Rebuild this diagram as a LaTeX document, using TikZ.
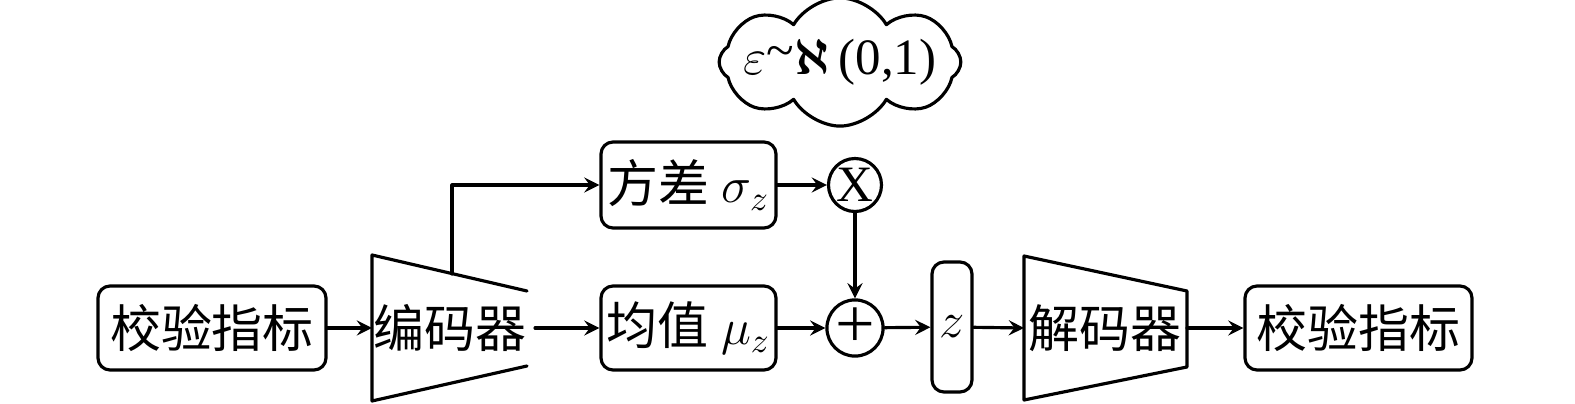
\documentclass[tikz,border=0pt]{standalone}
\usepackage{amsmath}
\usepackage{fontspec}
\setmainfont{Liberation Serif}
\newfontfamily\cjk{Noto Sans CJK SC}
\usetikzlibrary{shapes.symbols}
\tikzset{
    blk/.style={draw, rounded corners=0.12cm, minimum height=0.84cm, inner sep=0pt},
    opr/.style={draw, circle, minimum size=0.53cm, inner sep=0pt}
}
\begin{document}
\begin{tikzpicture}[scale=1,>=stealth, font=\fontsize{14.5}{17}\selectfont, line join=round, line cap=round, line width=0.9pt]
            \useasboundingbox (0,0) rectangle (15.75,4.04);
            \def\ymid{0.76} \def\yup{2.19}
            \node[blk, minimum width=2.28cm] (in) at (2.12,\ymid) {\cjk 校验指标};
            \node (enc) at (4.50,\ymid) {\cjk 编码器};
            \draw (5.27,1.13)--(3.72,1.49)--(3.72,0.03)--(5.27,0.38);
            \coordinate (encin) at (3.72,\ymid);
            \coordinate (encout) at (5.35,\ymid);
            \coordinate (encup) at (4.52,1.30);
            \node[blk, minimum width=1.75cm, minimum height=0.86cm] (var) at (6.885,\yup) {{\cjk 方差} $\sigma_z$};
            \node[blk, minimum width=1.75cm] (mean) at (6.885,\ymid) {{\cjk 均值} $\mu_z$};
            \node[opr] (mul) at (8.55,\yup) {X};
            \node[opr, font=\fontsize{20}{22}\selectfont] (add) at (8.55,\ymid) {+};
            \node[blk, minimum width=0.40cm, minimum height=1.30cm] (z) at (9.52,0.77) {$z$};
            \node (dec) at (11.05,\ymid) {\cjk 解码器};
            \draw (10.24,1.48)--(11.87,1.13)--(11.87,0.37)--(10.24,0.04)--cycle;
            \coordinate (decin) at (10.24,\ymid);
            \coordinate (decout) at (11.87,\ymid);
            \node[blk, minimum width=2.27cm] (out) at (13.585,\ymid) {\cjk 校验指标};
            \node[draw, cloud, cloud puffs=8, cloud puff arc=120, aspect=3.0, inner xsep=-3pt, inner ysep=-2pt] (eps) at (8.40,3.42) {$\varepsilon$\raisebox{0.3ex}{\textasciitilde}$\boldsymbol{\aleph}$\,(0,1)};
            \draw[->] (in)--(encin);
            \draw[->] (encout)--(mean);
            \draw[->] (encup)|-(var);
            \draw[->] (var)--(mul);
            \draw[->] (mul)--(add);
            \draw[->] (mean)--(add);
            \draw[->] (add)--(z);
            \draw[->] (z)--(decin);
            \draw[->] (decout)--(out);
        \end{tikzpicture}
\end{document}
